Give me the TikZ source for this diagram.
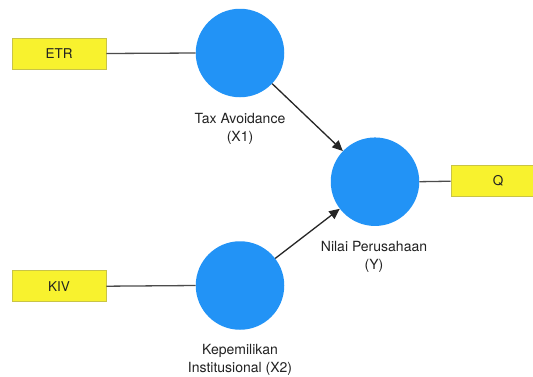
\documentclass[tikz,border=0pt]{standalone}
\usepackage{fontspec}
\setmainfont{TeX Gyre Heros}
\usetikzlibrary{arrows.meta}
\definecolor{latblue}{HTML}{2293F6}
\definecolor{indyel}{HTML}{F8F22E}
\definecolor{indborder}{HTML}{C9C446}
\definecolor{txtcol}{HTML}{222222}
\tikzset{
  indbox/.style={draw=indborder, fill=indyel, line width=0.8pt, minimum width=94pt, minimum height=31pt, inner sep=0pt, font=\fontsize{13.5}{16}\selectfont, text=txtcol},
  latent/.style={circle, fill=latblue, draw=none, minimum size=88.5pt, inner sep=0pt},
  lbl/.style={align=center, font=\fontsize{14}{18}\selectfont, text=txtcol, inner sep=0pt},
  conn/.style={draw=black!70, line width=1.3pt},
  arr/.style={draw=black!85, line width=1.3pt, -{Triangle[length=10.5pt,width=9.5pt]}}
}
\begin{document}
\begin{tikzpicture}[x=1pt,y=-1pt]
\clip (0,0) rectangle (533,376);
\fill[white] (0,0) rectangle (533,376);
\node[indbox] (etr) at (59,53.5) {ETR};
\node[indbox] (kiv) at (59,286.2) {KIV};
\node[indbox] (q) at (498,181.2) {Q};
\node[latent] (x1) at (240,53) {};
\node[latent] (y) at (375,181.7) {};
\node[latent] (x2) at (240,285.5) {};
\node[lbl] (x1l) at (240,128.5) {Tax Avoidance\\(X1)};
\node[lbl] (yl) at (374,257) {Nilai Perusahaan\\(Y)};
\node[lbl] (x2l) at (240,360) {Kepemilikan\\Institusional (X2)};
\draw[conn] (etr.east) -- (x1.west);
\draw[conn] (kiv.east) -- (x2.west);
\draw[conn] (y.east) -- (q.west);
\draw[arr] (x1) -- (y);
\draw[arr] (x2) -- (y);
\end{tikzpicture}
\end{document}
